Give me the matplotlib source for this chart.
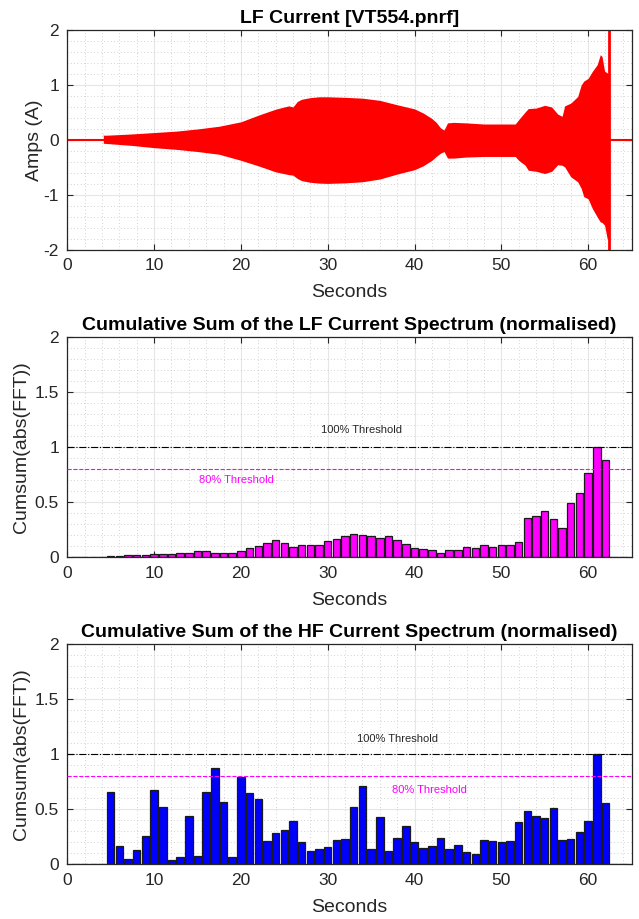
#!/usr/bin/env python

"""plot.py: LF current trace and cumulative FFT sums for VT554."""

import matplotlib
matplotlib.use('Agg')
import matplotlib.pyplot as plt
from matplotlib.ticker import MultipleLocator

# LF current envelope (seconds, upper / lower amps)
env_t = [4.15, 4.2, 5, 7.5, 10, 12.5, 15, 17.5, 20, 22, 24, 25.5, 26.0, 26.5,
         27, 28, 29, 30, 32, 34, 36, 38, 40, 41, 42, 42.5, 43, 43.4, 43.8,
         44.5, 46, 48, 50, 51.6, 52, 52.75, 53.1, 54, 55, 55.8, 56.5, 57,
         57.3, 58, 58.8, 59.2, 59.5, 60, 60.5, 61.05, 61.4, 61.6, 61.9, 62.2,
         62.4]
env_hi = [0.12, 0.085, 0.09, 0.11, 0.135, 0.16, 0.2, 0.25, 0.33, 0.45, 0.56,
          0.62, 0.6, 0.7, 0.74, 0.77, 0.785, 0.785, 0.775, 0.76, 0.72, 0.64,
          0.565, 0.49, 0.39, 0.32, 0.22, 0.18, 0.31, 0.32, 0.31, 0.29, 0.29,
          0.29, 0.37, 0.51, 0.57, 0.58, 0.63, 0.6, 0.47, 0.43, 0.62, 0.67,
          0.79, 1.0, 1.07, 1.12, 1.25, 1.37, 1.55, 1.52, 1.25, 1.22, 1.2]
env_lo = [-0.07, -0.06, -0.07, -0.1, -0.14, -0.17, -0.21, -0.26, -0.37, -0.47,
          -0.58, -0.63, -0.64, -0.7, -0.74, -0.77, -0.785, -0.79, -0.78,
          -0.76, -0.71, -0.62, -0.54, -0.47, -0.37, -0.3, -0.24, -0.21, -0.33,
          -0.33, -0.31, -0.3, -0.3, -0.3, -0.37, -0.46, -0.55, -0.57, -0.61,
          -0.57, -0.45, -0.46, -0.49, -0.67, -0.76, -0.88, -1.03, -1.07,
          -1.25, -1.4, -1.49, -1.5, -1.55, -1.8, -1.8]

# flat lead-in / tail and the final spike
lead_t = [0, 4.15]
lead_a = [0, 0]
tail_t = [62.45, 65]
tail_a = [0, 0]
spike_t = [62.45, 62.45]
spike_a = [-2.3, 2.3]

# one bar per second of signal
bins = list(range(1, 65))
lf_sum = [0.005, 0.005, 0.005, 0.0, 0.015, 0.015, 0.018, 0.018, 0.018, 0.027,
          0.027, 0.027, 0.036, 0.042, 0.055, 0.055, 0.036, 0.042, 0.042, 0.06,
          0.088, 0.106, 0.127, 0.155, 0.127, 0.091, 0.115, 0.109, 0.115, 0.145,
          0.164, 0.192, 0.214, 0.2, 0.194, 0.173, 0.191, 0.161, 0.118, 0.082,
          0.079, 0.064, 0.036, 0.07, 0.07, 0.091, 0.085, 0.109, 0.097, 0.115,
          0.115, 0.142, 0.36, 0.372, 0.418, 0.345, 0.264, 0.494, 0.582, 0.767,
          1.0, 0.882, 0.005, 0.005]
hf_sum = [0.003, 0.003, 0.003, 0.005, 0.658, 0.17, 0.052, 0.127, 0.258, 0.673,
          0.524, 0.039, 0.067, 0.442, 0.076, 0.658, 0.879, 0.57, 0.07, 0.791,
          0.645, 0.594, 0.209, 0.288, 0.309, 0.397, 0.203, 0.124, 0.136, 0.161,
          0.218, 0.228, 0.521, 0.709, 0.139, 0.427, 0.124, 0.242, 0.348, 0.2,
          0.145, 0.164, 0.239, 0.139, 0.179, 0.109, 0.091, 0.221, 0.215, 0.2,
          0.215, 0.382, 0.482, 0.442, 0.421, 0.515, 0.221, 0.233, 0.291, 0.397,
          1.0, 0.558, 0.005, 0.005]

# threshold label positions (x, y) per panel
lf_lbl100 = (33.9, 1.157)
lf_lbl80 = (19.5, 0.70)
hf_lbl100 = (38.0, 1.136)
hf_lbl80 = (41.7, 0.68)

plt.rcParams['font.family'] = ['Liberation Sans', 'DejaVu Sans']
plt.rcParams['axes.unicode_minus'] = False
AX_COL = '#262626'


def style_axes(ax, ymin, ymax, ystep, yminor):
    ax.set_xlim(0, 65)
    ax.set_ylim(ymin, ymax)
    ax.xaxis.set_major_locator(MultipleLocator(10))
    ax.xaxis.set_minor_locator(MultipleLocator(2))
    ax.yaxis.set_major_locator(MultipleLocator(ystep))
    ax.yaxis.set_minor_locator(MultipleLocator(yminor))
    ax.grid(which='major', color='#e6e6e6', linewidth=0.8, linestyle='-')
    ax.grid(which='minor', color='#c4c4c4', linewidth=0.6, linestyle=(0, (1, 3)))
    ax.set_axisbelow(True)
    ax.tick_params(which='both', direction='in', top=True, right=True,
                   colors=AX_COL, labelsize=12.5, pad=6)
    ax.tick_params(which='major', length=4, width=0.8)
    ax.tick_params(which='minor', length=0)
    for s in ax.spines.values():
        s.set_color(AX_COL)
        s.set_linewidth(0.9)
    ax.set_xlabel('Seconds', fontsize=14, color=AX_COL, labelpad=8)


def plot_spectrum(ax, values, colour, title, lbl100, lbl80):
    ax.bar(bins, values, width=0.86, color=colour, edgecolor='#1a1a1a',
           linewidth=0.9, zorder=2)
    ax.axhline(1.0, color='black', linestyle='-.', linewidth=0.8, zorder=3)
    ax.axhline(0.8, color='#ff00ff', linestyle='--', linewidth=0.8, zorder=3)
    ax.text(lbl100[0], lbl100[1], '100% Threshold', fontsize=8,
            color='#262626', ha='center', va='center')
    ax.text(lbl80[0], lbl80[1], '80% Threshold', fontsize=8,
            color='#ff00ff', ha='center', va='center')
    style_axes(ax, 0, 2, 0.5, 0.1)
    ax.set_yticks([0, 0.5, 1, 1.5, 2])
    ax.set_yticklabels(['0', '0.5', '1', '1.5', '2'])
    ax.set_ylabel('Cumsum(abs(FFT))', fontsize=14, color=AX_COL, labelpad=3)
    ax.set_title(title, fontsize=14, fontweight='bold', pad=5)


fig = plt.figure(figsize=(6.39, 9.19), dpi=100)
ax1 = fig.add_axes([0.1053, 0.728, 0.883, 0.2394])
ax2 = fig.add_axes([0.1053, 0.3936, 0.883, 0.2394])
ax3 = fig.add_axes([0.1053, 0.0595, 0.883, 0.2394])

# LF current trace
ax1.fill_between(env_t, env_lo, env_hi, color='#ff0000', linewidth=0, zorder=2)
ax1.plot(lead_t, lead_a, color='#ff0000', linewidth=1.5, zorder=2)
ax1.plot(tail_t, tail_a, color='#ff0000', linewidth=1.5, zorder=2)
ax1.plot(spike_t, spike_a, color='#ff0000', linewidth=2, zorder=2)
style_axes(ax1, -2, 2, 1, 0.2)
ax1.set_ylabel('Amps (A)', fontsize=14, color=AX_COL, labelpad=0)
ax1.set_title('LF Current [VT554.pnrf]', fontsize=14, fontweight='bold', pad=5)

plot_spectrum(ax2, lf_sum, '#ff00ff',
              'Cumulative Sum of the LF Current Spectrum (normalised)',
              lf_lbl100, lf_lbl80)
plot_spectrum(ax3, hf_sum, '#0000ff',
              'Cumulative Sum of the HF Current Spectrum (normalised)',
              hf_lbl100, hf_lbl80)

fig.savefig('out.png', dpi=100)
